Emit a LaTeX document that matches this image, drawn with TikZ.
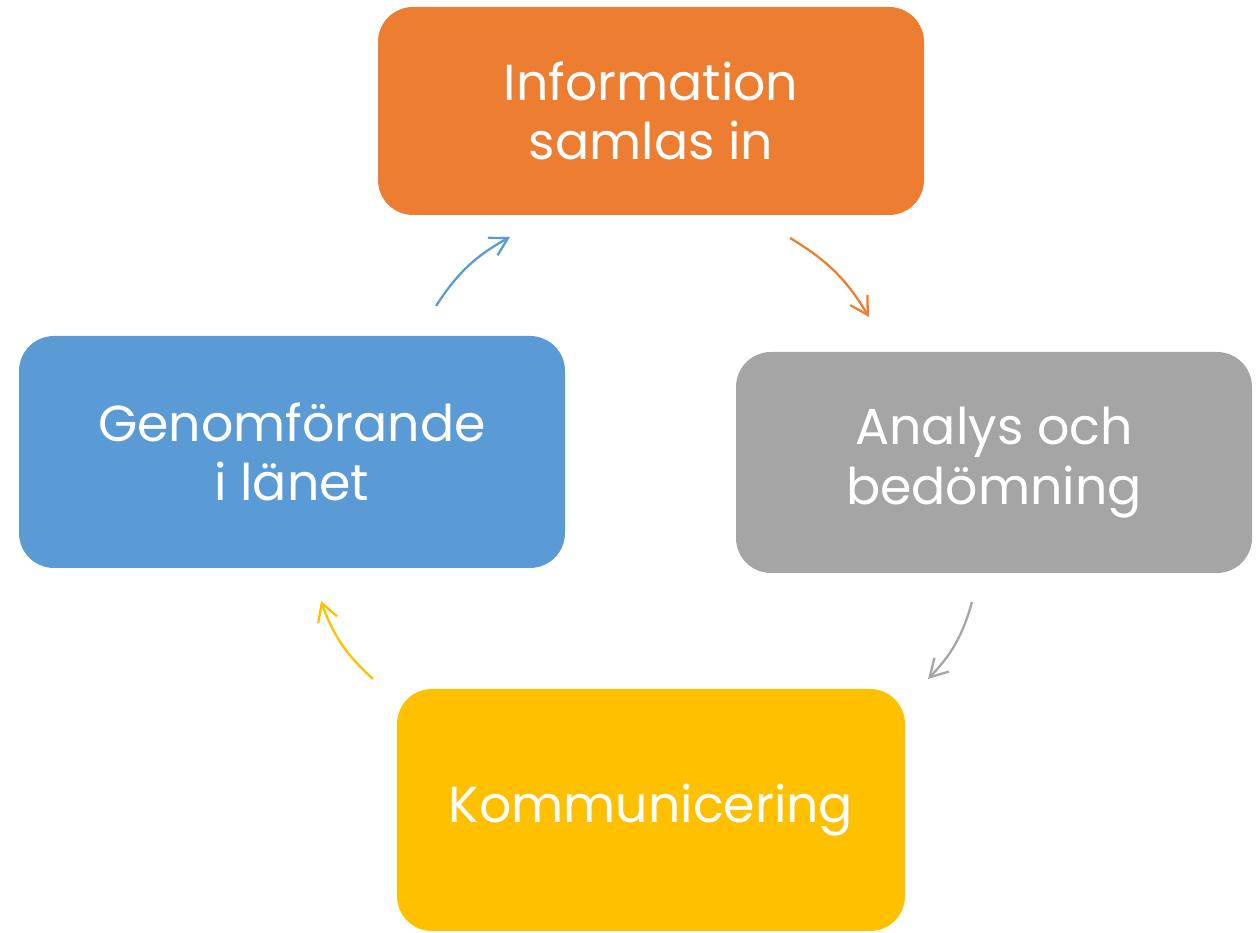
\documentclass[tikz,border=0pt]{standalone}
\usepackage{fontspec}
\usepackage{xcolor}
\setmainfont{Poppins}
\usetikzlibrary{arrows.meta,positioning}
\definecolor{stageorange}{RGB}{237,125,49}
\definecolor{stagegray}{RGB}{165,165,165}
\definecolor{stageblue}{RGB}{91,155,213}
\definecolor{stageyellow}{RGB}{255,192,0}

\tikzset{
    stagebox/.style={rectangle, rounded corners=0.7cm, inner sep=0pt, align=center,
        text=white, font=\fontsize{28.8}{34}\selectfont},
    cyclearrow/.style={-{Straight Barb[length=3.5mm, width=4mm]}, line width=1.3pt, bend left=14}
}

\begin{document}
\begin{tikzpicture}
    \useasboundingbox (0,0) rectangle (25.12,18.66);

    % Information box
    \node[stagebox, fill=stageorange, minimum width=10.92cm, minimum height=4.16cm] (info) at (13.02,16.44) {Information\\samlas in};

    % Analysis box
    \node[stagebox, fill=stagegray, minimum width=10.32cm, minimum height=4.42cm] (analys) at (19.88,9.41) {Analys och\\bedömning};

    % Communication box
    \node[stagebox, fill=stageyellow, minimum width=10.16cm, minimum height=4.84cm] (komm) at (13.02,2.46) {\raisebox{-0.1cm}{Kommunicering}};

    % Implementation box
    \node[stagebox, fill=stageblue, minimum width=10.92cm, minimum height=4.64cm] (genom) at (5.84,9.62) {Genomförande\\i länet};

    % Arrow ends
    \coordinate (infoout) at (15.80,13.90);
    \coordinate (analysin) at (17.38,12.32);
    \coordinate (analysout) at (19.44,6.62);
    \coordinate (kommin) at (18.56,5.08);
    \coordinate (kommout) at (7.46,5.08);
    \coordinate (genomin) at (6.42,6.64);
    \coordinate (genomout) at (8.72,12.54);
    \coordinate (infoin) at (10.20,13.92);

    % Arrows
    \draw[cyclearrow, stageorange] (infoout) to (analysin);
    \draw[cyclearrow, stagegray] (analysout) to (kommin);
    \draw[cyclearrow, stageyellow] (kommout) to (genomin);
    \draw[cyclearrow, stageblue] (genomout) to (infoin);
\end{tikzpicture}
\end{document}
